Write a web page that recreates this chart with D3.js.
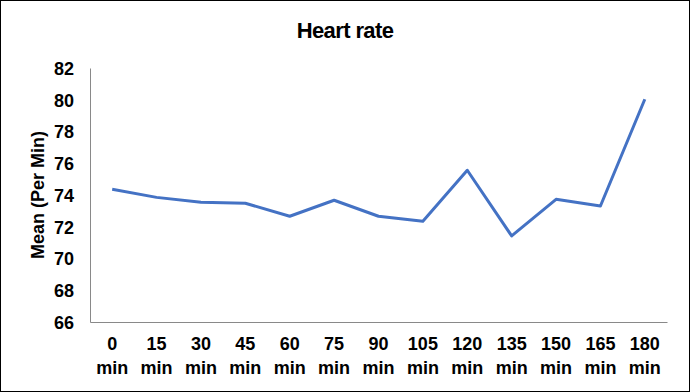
<!DOCTYPE html>
<html>
<head>
<meta charset="utf-8">
<script src="https://cdn.jsdelivr.net/npm/d3@7"></script>
<style>
  body { margin: 0; background: #fff; }
  text { font-family: "Liberation Sans", Arial, sans-serif; font-weight: bold; fill: #000; }
</style>
</head>
<body>
<div id="chart"></div>
<script>
var categories = ["0", "15", "30", "45", "60", "75", "90", "105", "120", "135", "150", "165", "180"];
var heartRate = [74.36, 73.85, 73.54, 73.48, 72.66, 73.67, 72.66, 72.34, 75.56, 71.42, 73.73, 73.31, 80.03];
var yTicks = [66, 68, 70, 72, 74, 76, 78, 80, 82];

var width = 690, height = 392;
var margin = {top: 68, right: 23, bottom: 70, left: 90};

var svg = d3.select("#chart").append("svg")
  .attr("width", width)
  .attr("height", height);

svg.append("rect")
  .attr("x", 0.5).attr("y", 0.5)
  .attr("width", width - 1).attr("height", height - 1)
  .attr("fill", "#fff").attr("stroke", "#000");

var x = d3.scaleBand()
  .domain(categories)
  .range([margin.left, width - margin.right]);

var y = d3.scaleLinear()
  .domain([66, 82])
  .range([height - margin.bottom, margin.top]);

svg.append("text")
  .attr("x", width / 2)
  .attr("y", 38)
  .attr("text-anchor", "middle")
  .style("font-size", "22px")
  .style("letter-spacing", "-0.6px")
  .text("Heart rate");

// y axis
var yAxis = svg.append("g")
  .attr("transform", "translate(" + margin.left + ",0)")
  .call(d3.axisLeft(y).tickValues(yTicks).tickSize(0).tickPadding(16));
yAxis.select(".domain").attr("stroke", "#898989");
yAxis.selectAll("text").style("font-size", "18px").attr("dy", "0.35em");

// x axis
var xAxis = svg.append("g")
  .attr("transform", "translate(0," + (height - margin.bottom) + ")")
  .call(d3.axisBottom(x).tickSize(0).tickFormat(""));
xAxis.select(".domain").attr("stroke", "#898989");

var xl = svg.append("g").selectAll("text")
  .data(categories)
  .enter().append("text")
  .attr("text-anchor", "middle")
  .style("font-size", "18px")
  .attr("x", function(d) { return x(d) + x.bandwidth() / 2; })
  .attr("y", 350);
xl.append("tspan").text(function(d) { return d; });
xl.append("tspan")
  .attr("x", function(d) { return x(d) + x.bandwidth() / 2; })
  .attr("dy", 24)
  .text("min");

svg.append("text")
  .attr("transform", "translate(44," + ((margin.top + height - margin.bottom) / 2) + ") rotate(-90)")
  .attr("text-anchor", "middle")
  .style("font-size", "18px")
  .text("Mean (Per Min)");

var line = d3.line()
  .x(function(d, i) { return x(categories[i]) + x.bandwidth() / 2; })
  .y(function(d) { return y(d); });

svg.append("path")
  .datum(heartRate)
  .attr("fill", "none")
  .attr("stroke", "#4472C4")
  .attr("stroke-width", 3)
  .attr("stroke-linejoin", "round")
  .attr("d", line);
</script>
</body>
</html>
